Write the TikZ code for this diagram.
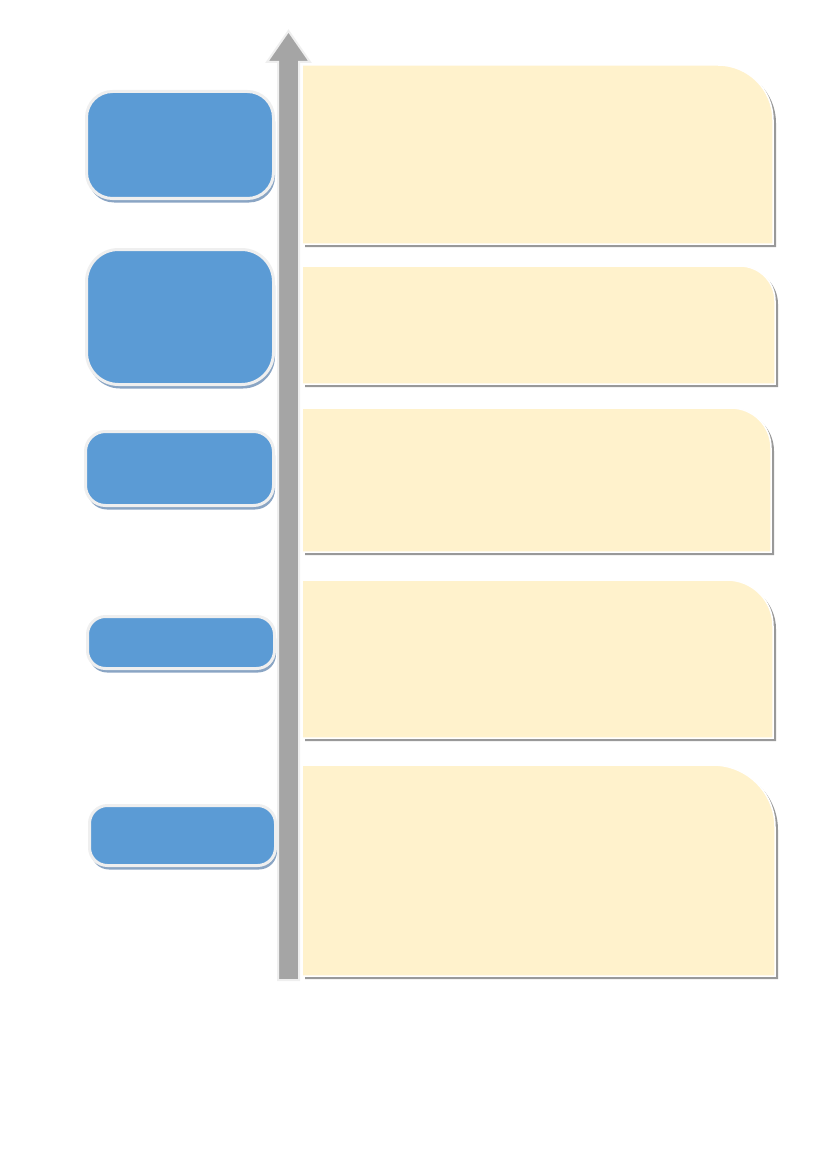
\documentclass[tikz,border=0pt]{standalone}
\usepackage{tikz}
\usepackage{xcolor}
\usetikzlibrary{shadows}

\definecolor{stepblue}{HTML}{5B9BD5}
\definecolor{stepshade}{HTML}{8AA5C4}
\definecolor{noteyellow}{HTML}{FFF2CC}
\definecolor{noteshade}{HTML}{999999}
\definecolor{axisgray}{HTML}{A5A5A5}
\definecolor{rimgray}{HTML}{EFEFEF}

\begin{document}
\begin{tikzpicture}
  [x=1pt,y=-1pt,
   stepbox/.style={rectangle,fill=stepblue,draw=rimgray,line width=3pt,inner sep=0pt,
     drop shadow={shadow xshift=1.5pt,shadow yshift=-4pt,fill=stepshade,opacity=1}},
   notebox/.style={fill=noteyellow,draw=white,line width=1.5pt,
     drop shadow={shadow xshift=3pt,shadow yshift=-3pt,fill=noteshade,opacity=1}},
   axisarrow/.style={fill=axisgray,draw=rimgray,line width=2pt,line join=miter}]
  \useasboundingbox (0,0) rectangle (827,1169);

  % steps on the left
  \foreach \name/\x/\y/\w/\h/\r in {s1/180/145/187/107/26,s2/180/317/187/135/32,
      s3/179.5/468.5/188/74/20,s4/181/642.5/187/52/18,s5/182.5/835.5/186/60/18}
    \node[stepbox,minimum width=\w pt,minimum height=\h pt,rounded corners=\r pt] (\name) at (\x,\y) {};

  % time axis
  \draw[axisarrow] (278,980) -- (278,62) -- (267,62) -- (288.5,31) -- (310,62)
    -- (299,62) -- (299,980) -- cycle;

  % notes on the right
  \foreach \top/\bot/\right/\r in {65/244/773/55,266/384/775/35,408/552/771/40,
      580/738/773/46,765/976/775/62}
    \path[notebox] (302,\bot) -- (302,\top) -- ({\right-\r},\top)
      arc[start angle=-90,end angle=0,radius=\r] -- (\right,\bot) -- cycle;
\end{tikzpicture}
\end{document}
